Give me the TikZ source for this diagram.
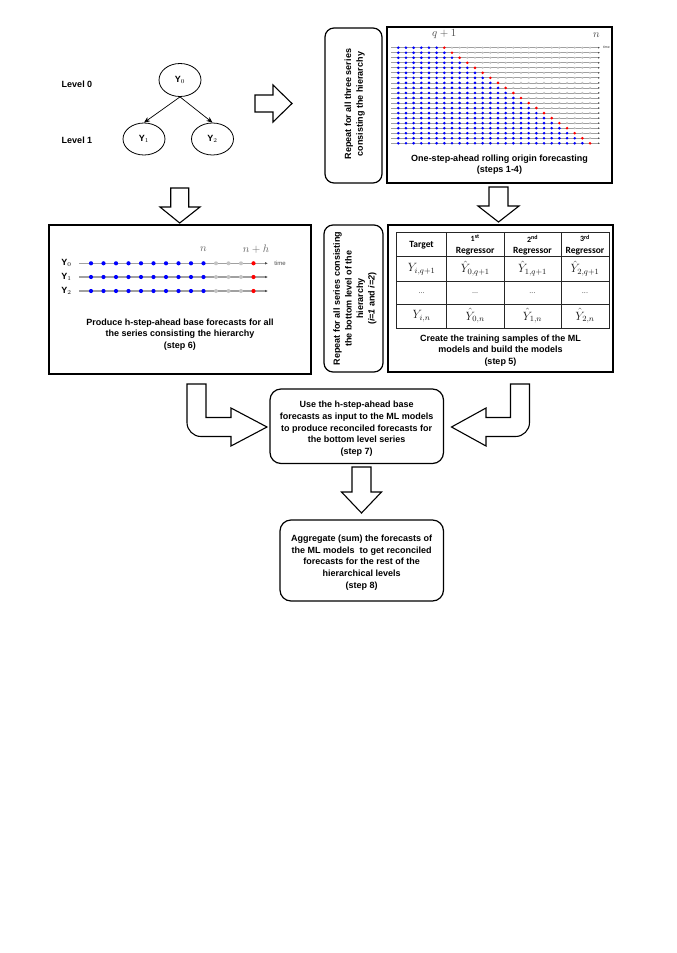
\documentclass[tikz,border=0pt]{standalone}
\usepackage[no-math]{fontspec}
\setmainfont{Liberation Sans}
\newfontfamily\calibri{Carlito}
\usetikzlibrary{shapes.geometric,arrows.meta}
\definecolor{gline}{HTML}{A0A0A0}
\definecolor{gdot}{HTML}{C4C4C4}
\definecolor{dotblue}{HTML}{0000FF}
\definecolor{dotred}{HTML}{FF0000}
\definecolor{lblgray}{HTML}{666666}
\begin{document}
\begin{tikzpicture}[x=1pt,y=-1pt,
  box/.style={draw=black,line width=1.4pt,inner sep=0pt},
  rbox/.style={draw=black,line width=1.2pt,rounded corners=9pt,inner sep=0pt},
  barrow/.style={draw=black,line width=1.1pt,fill=white,line join=miter},
  lbl/.style={font=\fontsize{9}{11.6}\selectfont\bfseries,align=center,inner sep=0pt},
  ell/.style={draw,ellipse,minimum width=42pt,minimum height=33pt,inner sep=0pt,line width=0.8pt,font=\fontsize{9}{11}\selectfont\bfseries},
  treearrow/.style={draw=black,line width=0.7pt,-{Stealth[length=6pt,width=5pt]}},
  timeline/.style={draw=gline,line width=1.3pt,-{Latex[length=3pt,width=2.6pt,color=black!70]}},
  smalltimeline/.style={draw=gline,line width=0.8pt,-{Latex[length=2pt,width=1.8pt,color=black!70]}},
  tline/.style={draw=black!85,line width=0.6pt},
  thd/.style={font=\calibri\fontsize{9.5}{11}\selectfont\bfseries,inner sep=0pt},
  tord/.style={font=\calibri\fontsize{8}{9}\selectfont\bfseries,inner sep=0pt},
  tmath/.style={font=\fontsize{12}{13}\selectfont,inner sep=0pt,text=black!90},
  tdots/.style={font=\calibri\fontsize{8}{9}\selectfont,inner sep=0pt,text=black!60},
  axlbl/.style={font=\fontsize{11}{12}\selectfont,inner sep=0pt,text=lblgray}
]
\useasboundingbox (0,0) rectangle (677,953);
\fill[white] (0,0) rectangle (677,953);

% ---------- tree ----------
\node[lbl] (lev0) at (77,84) {Level 0};
\node[lbl] (lev1) at (77,140) {Level 1};
\node[ell] (y0) at (180,80) {Y$_0$};
\node[ell,minimum height=32pt] (y1) at (144,139) {Y$_1$};
\node[ell,minimum height=32pt] (y2) at (212.5,139) {Y$_2$};
\draw[treearrow] (y0.south) -- (y1.north);
\draw[treearrow] (y0.south) -- (y2.north);

% ---------- top right ----------
\node[rbox,minimum width=57pt,minimum height=155pt] (rep1) at (353.5,105.5) {};
\node[lbl,rotate=90] (rep1t) at (354.7,104) {Repeat for all three series\\consisting the hierarchy};
\node[box,minimum width=225pt,minimum height=156pt] (roll) at (499.5,105) {};
\node[axlbl,text=black!70] (qlab) at (444.3,34) {$q+1$};
\node[axlbl,text=black!70] (nlab) at (596.5,35) {$n$};
\node[font=\fontsize{3.5}{4}\selectfont,inner sep=0pt,text=black!80] (tlab1) at (606.5,47.5) {time};
\foreach \r in {0,...,19}{
  \pgfmathsetmacro\yy{47.7+\r*5.03}
  \draw[smalltimeline] (391,\yy) -- (600,\yy);
  \pgfmathtruncatemacro\rk{\r+6}
  \foreach \k in {0,...,25}{
    \pgfmathsetmacro\xx{398.3+\k*7.67}
    \ifnum\k<\rk
      \fill[dotblue] (\xx,\yy) circle (1.45pt);
    \else\ifnum\k=\rk
      \fill[dotred] (\xx,\yy) circle (1.45pt);
    \else
      \fill[gdot] (\xx,\yy) circle (1.2pt);
    \fi\fi
  }
}
\node[lbl] (rolltxt) at (499.5,164.5) {One-step-ahead rolling origin forecasting\\(steps 1-4)};

% ---------- middle left ----------
\node[box,minimum width=262pt,minimum height=149pt] (base) at (180,299.5) {};
\node[axlbl] (nlab2) at (203.3,249) {$n$};
\node[axlbl] (nhlab) at (256,249) {$n+h$};
\node[font=\fontsize{6}{7}\selectfont,inner sep=0pt,text=black!70] (tlab2) at (280,263.5) {time};
\foreach \j/\yy in {0/263.3,1/277,2/291}{
  \node[font=\fontsize{9}{10}\selectfont\bfseries,inner sep=0pt] (ylab\j) at (66.5,\yy) {Y$_{\j}$};
  \draw[timeline] (79,\yy) -- (268,\yy);
  \foreach \k in {0,...,13}{
    \pgfmathsetmacro\xx{91+\k*12.5}
    \ifnum\k<10
      \fill[dotblue] (\xx,\yy) circle (2.1pt);
    \else\ifnum\k=13
      \fill[dotred] (\xx,\yy) circle (2.1pt);
    \else
      \fill[gdot] (\xx,\yy) circle (2pt);
    \fi\fi
  }
}
\node[lbl] (basetxt) at (180,334.5) {Produce h-step-ahead base forecasts for all\\the series consisting the hierarchy\\(step 6)};

% ---------- middle right ----------
\node[rbox,minimum width=59pt,minimum height=147pt] (rep2) at (353.5,298.5) {};
\node[lbl,rotate=90] (rep2t) at (355,298.5) {Repeat for all series consisting\\the bottom level of the\\hierarchy\\(\textit{i=1} and \textit{i=2})};
\node[box,minimum width=225pt,minimum height=147pt] (train) at (500.5,298.5) {};
% table
\draw[tline] (396.7,232.3) rectangle (609,328.3);
\foreach \yy in {256.7,281,304}{ \draw[tline] (396.7,\yy) -- (609,\yy); }
\foreach \xx in {446.5,504,561}{ \draw[tline] (\xx,232.3) -- (\xx,328.3); }
\node[thd] (hT) at (421.6,245) {Target};
\node[tord] (h1a) at (475.2,238.5) {1\textsuperscript{st}};
\node[thd] (h1b) at (475.2,251) {Regressor};
\node[tord] (h2a) at (532.5,238.5) {2\textsuperscript{nd}};
\node[thd] (h2b) at (532.5,251) {Regressor};
\node[tord] (h3a) at (585,238.5) {3\textsuperscript{rd}};
\node[thd] (h3b) at (585,251) {Regressor};
\node[tmath] (c11) at (421.6,269) {$Y_{i,q+1}$};
\node[tmath] (c12) at (475.2,268.3) {$\hat{Y}_{0,q+1}$};
\node[tmath] (c13) at (532.5,268.3) {$\hat{Y}_{1,q+1}$};
\node[tmath] (c14) at (585,268.3) {$\hat{Y}_{2,q+1}$};
\node[tdots] (c21) at (421.6,293) {...};
\node[tdots] (c22) at (475.2,293) {...};
\node[tdots] (c23) at (532.5,293) {...};
\node[tdots] (c24) at (585,293) {...};
\node[tmath] (c31) at (421.6,316.5) {$Y_{i,n}$};
\node[tmath] (c32) at (475.2,316) {$\hat{Y}_{0,n}$};
\node[tmath] (c33) at (532.5,316) {$\hat{Y}_{1,n}$};
\node[tmath] (c34) at (585,316) {$\hat{Y}_{2,n}$};
\node[lbl] (traintxt) at (500.5,350.3) {Create the training samples of the ML\\models and build the models\\(step 5)};

% ---------- bottom ----------
\node[rbox,minimum width=173.5pt,minimum height=74.5pt,rounded corners=11pt] (step7) at (356.75,426.25) {};
\node[lbl] (step7t) at (356.7,428.8) {Use the h-step-ahead base\\forecasts as input to the ML models\\to produce reconciled forecasts for\\the bottom level series\\(step 7)};
\node[rbox,minimum width=163.5pt,minimum height=81pt,rounded corners=11pt] (step8) at (361.75,560.5) {};
\node[lbl] (step8t) at (361.7,562.5) {Aggregate (sum) the forecasts of\\the ML models\ \ to get reconciled\\forecasts for the rest of the\\hierarchical levels\\(step 8)};

% ---------- block arrows ----------
\draw[barrow] (255,95) -- (273,95) -- (273,85) -- (292,103.5) -- (273,122) -- (273,112) -- (255,112) -- cycle;
\draw[barrow] (170.7,188) -- (188.7,188) -- (188.7,207) -- (200,207) -- (179.7,223) -- (160,207) -- (170.7,207) -- cycle;
\draw[barrow] (489,187) -- (508,187) -- (508,206) -- (519,206) -- (498.5,222) -- (478,206) -- (489,206) -- cycle;
\draw[barrow] (352,467) -- (371,467) -- (371,492) -- (381.5,492) -- (361.5,513) -- (341.5,492) -- (352,492) -- cycle;
\draw[barrow] (187,384) -- (206,384) -- (206,417.5) -- (231,417.5) -- (231,408) -- (267,427) -- (231,446) -- (231,436.5) -- (201,436.5) .. controls (193.3,436.5) and (187,430.2) .. (187,422.5) -- cycle;
\draw[barrow] (529.5,384) -- (510.5,384) -- (510.5,417.5) -- (486,417.5) -- (486,408) -- (451.5,427) -- (486,446) -- (486,436.5) -- (515.5,436.5) .. controls (523.2,436.5) and (529.5,430.2) .. (529.5,422.5) -- cycle;
\end{tikzpicture}
\end{document}
